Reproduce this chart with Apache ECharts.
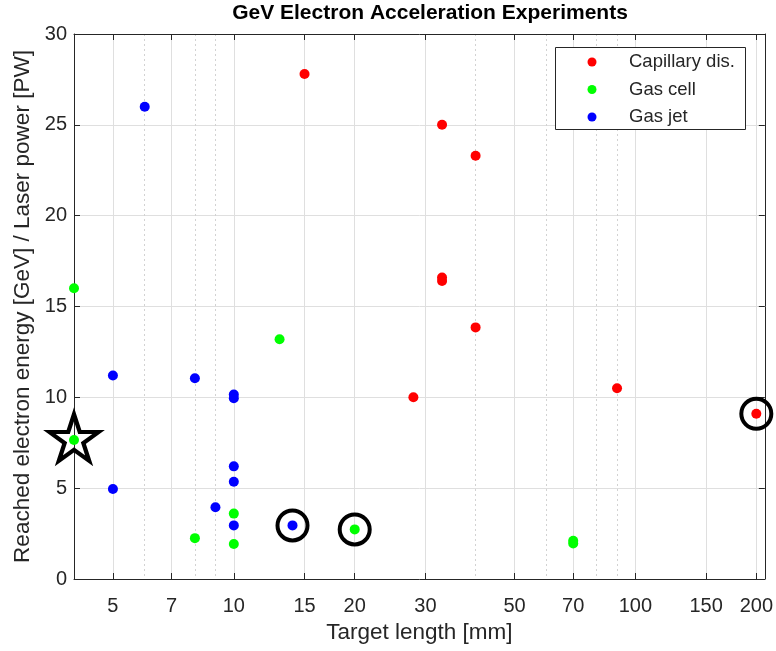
<!DOCTYPE html>
<html>
<head>
<meta charset="utf-8">
<script src="https://cdn.jsdelivr.net/npm/echarts@6/dist/echarts.min.js"></script>
<style>
  html, body { margin: 0; padding: 0; background: #ffffff; }
  #chart { width: 776px; height: 651px; }
</style>
</head>
<body>
<div id="chart"></div>
<script>
// Target length [mm] and reached energy per laser power [GeV/PW], by scheme
const capillaryX = [15, 33, 40, 33, 33, 40, 28, 90, 200];
const capillaryY = [27.8, 25.0, 23.3, 16.6, 16.4, 13.85, 10.0, 10.5, 9.1];

const gasCellX = [4, 13, 4, 10, 8, 10, 20, 70, 70];
const gasCellY = [16.0, 13.2, 7.65, 3.6, 2.25, 1.93, 2.73, 1.95, 2.1];

const gasJetX = [6, 5, 8, 10, 10, 10, 10, 5, 9, 10, 14];
const gasJetY = [26.0, 11.2, 11.05, 10.15, 9.95, 6.2, 5.35, 4.95, 3.95, 2.95, 2.95];

// Highlighted experiments (ringed) and the starred one
const ringX = [14, 20, 200];
const ringY = [2.95, 2.73, 9.1];
const starX = [4];
const starY = [7.65];

const seriesNames = ['Capillary dis.', 'Gas cell', 'Gas jet'];

// Axis ticks
const xMajorTicks = [5, 7, 10, 15, 20, 30, 50, 70, 100, 150, 200];
const xMinorTicks = [6, 8, 9, 40, 60, 80, 90];
const xMin = 4, xMax = 210;
const yMin = 0, yMax = 30, yStep = 5;

const pairs = (xs, ys) => xs.map((x, i) => [x, ys[i]]);

const FONT = '"Liberation Sans", Arial, Helvetica, sans-serif';
const INK = '#262626';

const starPath = 'path://M0,-100L22.45,-30.9L95.11,-30.9L36.33,11.8L58.78,80.9L0,38.2' +
  'L-58.78,80.9L-36.33,11.8L-95.11,-30.9L-22.45,-30.9Z';

const chart = echarts.init(document.getElementById('chart'), null, { renderer: 'canvas' });

const dot = (name, color, xs, ys) => ({
  name: name,
  type: 'scatter',
  xAxisIndex: 0,
  yAxisIndex: 0,
  data: pairs(xs, ys),
  symbol: 'circle',
  symbolSize: 10,
  itemStyle: { color: color, opacity: 1 },
  clip: false,
  z: 5,
  emphasis: { disabled: true }
});

chart.setOption({
  animation: false,
  backgroundColor: '#ffffff',
  title: {
    text: 'GeV Electron Acceleration Experiments',
    left: 430,
    textAlign: 'center',
    top: 3,
    padding: 0,
    textStyle: { fontFamily: FONT, fontWeight: 'bold', fontSize: 21, color: '#000000' }
  },
  grid: {
    left: 74, right: 11, top: 34, bottom: 72,
    containLabel: false,
    show: false
  },
  // legend frame
  graphic: [{
    type: 'rect',
    left: 555, top: 47,
    shape: { width: 190, height: 82 },
    style: { fill: '#ffffff', stroke: INK, lineWidth: 1 },
    z: 20
  }],
  legend: {
    data: seriesNames,
    orient: 'vertical',
    left: 587.5,
    top: 52,
    padding: 0,
    itemWidth: 64,
    itemHeight: 9,
    itemGap: 7.5,
    icon: 'circle',
    selectedMode: false,
    z: 21,
    textStyle: { fontFamily: FONT, fontSize: 18.5, color: INK, lineHeight: 20, padding: 0 }
  },
  xAxis: [
    {
      type: 'log', logBase: 10, min: xMin, max: xMax, position: 'bottom',
      name: 'Target length [mm]', nameLocation: 'middle', nameGap: 42,
      nameTextStyle: { fontFamily: FONT, fontSize: 22.5, color: INK },
      axisLine: { show: true, onZero: false, lineStyle: { color: INK, width: 1 } },
      axisTick: { show: true, inside: true, length: 6, customValues: xMajorTicks, lineStyle: { color: INK } },
      axisLabel: { show: true, customValues: xMajorTicks, margin: 17, fontFamily: FONT, fontSize: 20, color: INK,
        formatter: v => String(v) },
      minorTick: { show: false },
      splitLine: { show: true, lineStyle: { color: '#dfdfdf', width: 1, type: 'solid' } }
    },
    {
      // dotted minor grid
      type: 'log', logBase: 10, min: xMin, max: xMax, position: 'bottom', gridIndex: 0,
      axisLine: { show: false },
      axisTick: { show: false, customValues: xMinorTicks },
      axisLabel: { show: false, customValues: xMinorTicks },
      splitLine: { show: true, lineStyle: { color: '#d2d2d2', width: 1, type: [2, 3] } }
    },
    {
      // top box edge with mirrored ticks
      type: 'log', logBase: 10, min: xMin, max: xMax, position: 'top', gridIndex: 0,
      axisLine: { show: true, onZero: false, lineStyle: { color: INK, width: 1 } },
      axisTick: { show: true, inside: true, length: 6, customValues: xMajorTicks, lineStyle: { color: INK } },
      axisLabel: { show: false, customValues: xMajorTicks },
      splitLine: { show: false }
    }
  ],
  yAxis: [
    {
      type: 'value', min: yMin, max: yMax, interval: yStep, position: 'left',
      name: 'Reached electron energy [GeV] / Laser power [PW]', nameLocation: 'middle', nameGap: 38,
      nameTextStyle: { fontFamily: FONT, fontSize: 22.5, color: INK },
      axisLine: { show: true, onZero: false, lineStyle: { color: INK, width: 1 } },
      axisTick: { show: true, inside: true, length: 6, lineStyle: { color: INK } },
      axisLabel: { show: true, margin: 7, fontFamily: FONT, fontSize: 20, color: INK },
      splitLine: { show: true, lineStyle: { color: '#dfdfdf', width: 1 } }
    },
    {
      // right box edge with mirrored ticks
      type: 'value', min: yMin, max: yMax, interval: yStep, position: 'right',
      axisLine: { show: true, onZero: false, lineStyle: { color: INK, width: 1 } },
      axisTick: { show: true, inside: true, length: 6, lineStyle: { color: INK } },
      axisLabel: { show: false },
      splitLine: { show: false }
    }
  ],
  series: [
    {
      name: 'ring',
      type: 'scatter',
      data: pairs(ringX, ringY),
      symbol: 'circle',
      symbolSize: 30,
      itemStyle: { color: 'rgba(0,0,0,0)', borderColor: '#000000', borderWidth: 4, opacity: 1 },
      clip: false,
      z: 3,
      silent: true
    },
    {
      name: 'star',
      type: 'scatter',
      data: pairs(starX, starY),
      symbol: starPath,
      symbolSize: [49, 46.5],
      symbolOffset: [0, -2.5],
      symbolKeepAspect: false,
      itemStyle: { color: 'rgba(0,0,0,0)', borderColor: '#000000', borderWidth: 4.2, opacity: 1 },
      clip: false,
      z: 3,
      silent: true
    },
    dot(seriesNames[0], '#ff0000', capillaryX, capillaryY),
    dot(seriesNames[1], '#00ff00', gasCellX, gasCellY),
    dot(seriesNames[2], '#0000ff', gasJetX, gasJetY)
  ]
});
</script>
</body>
</html>
